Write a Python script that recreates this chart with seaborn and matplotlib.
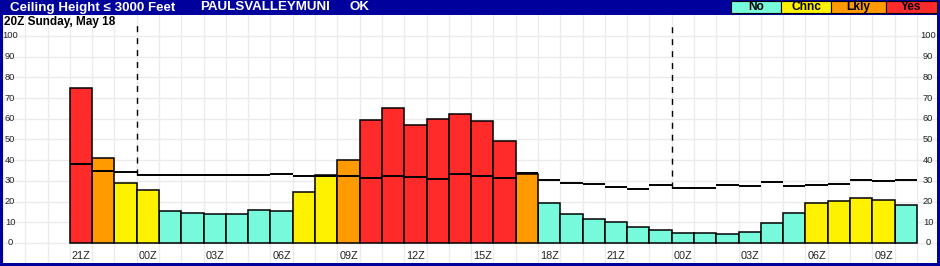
import pandas as pd
import matplotlib.pyplot as plt
import matplotlib.transforms as mtransforms
from matplotlib.patches import Rectangle
import seaborn as sns

# data
HOURS = ['21Z', '22Z', '23Z', '00Z', '01Z', '02Z', '03Z', '04Z', '05Z', '06Z',
         '07Z', '08Z', '09Z', '10Z', '11Z', '12Z', '13Z', '14Z', '15Z', '16Z',
         '17Z', '18Z', '19Z', '20Z', '21Z', '22Z', '23Z', '00Z', '01Z', '02Z',
         '03Z', '04Z', '05Z', '06Z', '07Z', '08Z', '09Z', '10Z']
PROB = [75, 41, 29, 25.6, 15.3, 14.5, 13.9, 13.9, 15.8, 15.3,
        24.7, 32.8, 40.2, 59.5, 65.3, 57.1, 60, 62.4, 59, 49.4,
        33.4, 19.4, 14, 11.6, 10.2, 7.7, 6.3, 4.7, 4.7, 4.2,
        5.2, 9.7, 14.5, 19.4, 20.3, 21.8, 20.8, 18.4]
CLIMO = [38.2, 34.8, 34.4, 32.9, 32.9, 32.9, 32.9, 32.9, 32.9, 33.4,
         32.4, 32.4, 32.4, 31.5, 32.4, 31.9, 31.0, 33.4, 32.4, 31.5,
         33.9, 30.5, 29.0, 28.5, 27.1, 26.1, 28.1, 26.6, 26.6, 28.1,
         27.6, 29.5, 27.6, 28.1, 28.5, 30.5, 30.0, 30.5]
CATEGORY = ['Yes', 'Lkly', 'Chnc', 'Chnc', 'No', 'No', 'No', 'No', 'No', 'No',
            'Chnc', 'Chnc', 'Lkly', 'Yes', 'Yes', 'Yes', 'Yes', 'Yes', 'Yes', 'Yes',
            'Lkly', 'No', 'No', 'No', 'No', 'No', 'No', 'No', 'No', 'No',
            'No', 'No', 'No', 'Chnc', 'Chnc', 'Chnc', 'Chnc', 'No']
LEVELS = ['No', 'Chnc', 'Lkly', 'Yes']
COLORS = {'No': '#77F9DB', 'Chnc': '#FFF200', 'Lkly': '#FF9A00', 'Yes': '#FF2A2A'}
Y_TICKS = [0, 10, 20, 30, 40, 50, 60, 70, 80, 90, 100]

TITLE = 'Ceiling Height \u2264 3000 Feet'
SITE = 'PAULSVALLEYMUNI'
STATE = 'OK'
SUBTITLE = '20Z Sunday, May 18'

NAVY = '#00009C'

plt.rcParams['font.family'] = ['Liberation Sans', 'DejaVu Sans']


def main():
    df = pd.DataFrame({'pos': range(len(HOURS)), 'hour': HOURS,
                       'prob': PROB, 'climo': CLIMO, 'cat': CATEGORY})

    fig = plt.figure(figsize=(9.4, 2.66), dpi=100, facecolor=NAVY)
    W, H = 940, 266
    ax = fig.add_axes([3 / W, 3 / H, 934 / W, 248 / H])
    ax.set_facecolor('white')

    sns.barplot(data=df, x='pos', y='prob', hue='cat', hue_order=LEVELS,
                palette=COLORS, dodge=False, width=1.0, edgecolor='black',
                linewidth=1.1, saturation=1, legend=False, ax=ax, zorder=3)

    # per-hour reference line segments
    ax.hlines(df['climo'], df['pos'] - 0.5, df['pos'] + 0.5,
              colors='black', linewidth=1.4, zorder=5)

    # day boundary dashed lines
    for _, r in df[df['hour'] == '00Z'].iterrows():
        ax.vlines(r['pos'] - 0.5, r['climo'], 106, colors='black',
                  linewidth=1.0, linestyles=(0, (4.3, 4.3)), zorder=5)

    ax.set_xlim(-3.5, 38.4)
    ax.set_ylim(-9.7, 110.1)

    # grid
    ax.set_xticks([p - 0.5 for p in range(-3, len(HOURS) + 1)], minor=True)
    ax.set_xticks([])
    ax.set_yticks(Y_TICKS)
    ax.grid(which='minor', axis='x', color='#EBEBEB', linewidth=1, zorder=0)
    ax.grid(which='major', axis='y', color='#EBEBEB', linewidth=1, zorder=0)
    ax.set_axisbelow(True)
    ax.tick_params(which='both', length=0, labelleft=False, labelbottom=False)
    for s in ax.spines.values():
        s.set_visible(False)
    ax.set_xlabel('')
    ax.set_ylabel('')

    # y labels on both sides, inside the axes
    tr = mtransforms.blended_transform_factory(ax.transAxes, ax.transData)
    for v in Y_TICKS:
        ax.text(0.0075, v, str(v), transform=tr, ha='center', va='center',
                fontsize=6.7, color='#222222')
        ax.text(0.9905, v, str(v), transform=tr, ha='center', va='center',
                fontsize=6.7, color='#222222')

    # hour labels every 3 hours
    for _, r in df.iloc[::3].iterrows():
        ax.text(r['pos'], -6.1, r['hour'], ha='center', va='center',
                fontsize=7.8, color='#222222')

    # header
    ty = 1 - 7.5 / H
    fig.text(10 / W, ty, TITLE, color='white', fontsize=9.6, fontweight='bold',
             va='center', ha='left')
    fig.text(200 / W, ty, SITE, color='white', fontsize=9.6, fontweight='bold',
             va='center', ha='left')
    fig.text(350 / W, ty, STATE, color='white', fontsize=9.6, fontweight='bold',
             va='center', ha='left')
    ax.text(4 / W, 1 - 21.5 / H, SUBTITLE, transform=fig.transFigure,
            fontsize=8.5, fontweight='bold', va='center', ha='left', zorder=6)

    # legend boxes
    edges = [731, 781, 831, 886, 937]
    for i, lev in enumerate(LEVELS):
        x0, x1 = edges[i], edges[i + 1]
        fig.patches.append(Rectangle((x0 / W, 1 - 13 / H), (x1 - x0) / W, 12 / H,
                                     transform=fig.transFigure, facecolor=COLORS[lev],
                                     edgecolor='black', linewidth=0.8))
        fig.text((x0 + x1) / 2 / W, 1 - 7 / H, lev, fontsize=8.6, fontweight='bold',
                 ha='center', va='center', color='black')

    fig.savefig('out.png', dpi=100, facecolor=NAVY)


if __name__ == '__main__':
    main()
